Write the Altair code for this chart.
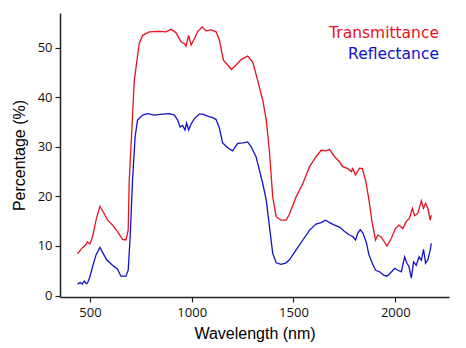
import altair as alt
import pandas as pd

# Transmittance (red)
t_wl = [439, 464, 477, 488, 500, 513, 530, 549, 565, 587, 611, 636, 660, 677, 688, 693, 718, 742, 759, 792,
        841, 874, 898, 923, 948, 964, 972, 985, 997, 1013, 1029, 1051, 1070, 1095, 1120, 1136, 1156, 1177, 1195,
        1218, 1243, 1275, 1300, 1324, 1349, 1366, 1382, 1398, 1415, 1439, 1464, 1480, 1513, 1546, 1579, 1611,
        1636, 1661, 1677, 1702, 1726, 1742, 1767, 1784, 1791, 1805, 1824, 1838, 1854, 1870, 1887, 1903, 1914,
        1931, 1947, 1959, 1980, 2001, 2018, 2037, 2054, 2070, 2084, 2095, 2111, 2128, 2139, 2149, 2160, 2172, 2177]
t_val = [8.4, 9.7, 10.1, 10.8, 10.4, 11.9, 15.2, 18.0, 16.9, 15.2, 14.2, 12.9, 11.3, 11.2, 13.2, 23.0, 43.4,
         50.8, 52.5, 53.2, 53.3, 53.2, 53.7, 53.0, 51.2, 50.8, 50.3, 52.5, 50.5, 51.8, 53.2, 54.2, 53.4, 53.6,
         53.2, 51.5, 47.5, 46.5, 45.6, 46.5, 47.6, 48.3, 47.1, 43.4, 39.4, 35.5, 29.0, 19.9, 15.9, 15.2, 15.2,
         16.4, 19.9, 22.6, 26.0, 28.0, 29.3, 29.2, 29.5, 28.0, 27.0, 26.0, 25.6, 25.0, 25.6, 24.3, 25.7, 25.6,
         23.3, 19.5, 14.6, 11.2, 12.2, 11.8, 10.8, 10.0, 11.5, 13.5, 14.2, 13.5, 14.9, 15.6, 17.6, 16.1, 16.6,
         19.1, 17.6, 18.6, 17.6, 15.2, 16.2]

# Reflectance (blue)
r_wl = [439, 452, 462, 472, 482, 488, 500, 513, 530, 549, 565, 582, 611, 636, 652, 677, 688, 698, 709, 722,
        734, 759, 783, 816, 857, 890, 915, 931, 943, 955, 967, 975, 985, 997, 1013, 1038, 1054, 1078, 1103,
        1120, 1136, 1152, 1177, 1201, 1226, 1251, 1275, 1292, 1316, 1324, 1349, 1366, 1382, 1398, 1415, 1439,
        1464, 1480, 1513, 1546, 1579, 1611, 1636, 1657, 1677, 1702, 1726, 1751, 1775, 1791, 1805, 1816, 1828,
        1841, 1858, 1870, 1887, 1903, 1923, 1943, 1959, 1975, 1997, 2013, 2030, 2046, 2057, 2067, 2079, 2090,
        2103, 2117, 2128, 2139, 2149, 2160, 2172, 2177]
r_val = [2.3, 2.6, 2.3, 2.9, 2.4, 2.5, 3.8, 5.8, 8.2, 9.7, 8.5, 7.2, 6.1, 5.3, 3.9, 3.9, 5.1, 12.0, 23.0, 32.0,
         35.4, 36.4, 36.7, 36.4, 36.6, 36.7, 36.4, 35.4, 34.0, 34.3, 33.4, 34.8, 33.4, 34.6, 35.7, 36.6, 36.6,
         36.2, 35.9, 35.5, 33.8, 30.8, 29.8, 29.2, 30.7, 30.8, 31.0, 30.0, 28.0, 26.7, 22.6, 19.3, 13.9, 8.5,
         6.6, 6.3, 6.6, 7.2, 9.2, 11.2, 13.2, 14.4, 14.7, 15.2, 14.7, 14.2, 13.8, 12.9, 12.2, 11.9, 11.2, 12.6,
         13.3, 12.6, 10.7, 8.3, 6.5, 5.1, 4.8, 4.1, 3.9, 4.5, 5.5, 5.1, 4.8, 7.8, 6.5, 5.9, 3.5, 6.8, 6.1, 7.8,
         7.1, 9.3, 6.5, 7.2, 9.2, 10.5]

series = ["Transmittance", "Reflectance"]
colors = ["#e8121c", "#1212c8"]
x_ticks = [500, 1000, 1500, 2000]
y_ticks = [0, 10, 20, 30, 40, 50]

df = pd.concat([
    pd.DataFrame({"wl": t_wl, "val": t_val, "series": series[0]}),
    pd.DataFrame({"wl": r_wl, "val": r_val, "series": series[1]}),
])
df["order"] = range(len(df))

leg = pd.DataFrame({"series": series, "y": [25, 45.5]})

color_scale = alt.Scale(domain=series, range=colors)

lines = alt.Chart(df).mark_line(strokeWidth=1.3, clip=True).encode(
    x=alt.X("wl:Q", title="Wavelength (nm)",
            scale=alt.Scale(domain=[353, 2264], nice=False, zero=False),
            axis=alt.Axis(values=x_ticks, grid=False, format="d")),
    y=alt.Y("val:Q", title="Percentage (%)",
            scale=alt.Scale(domain=[-0.3, 57], nice=False, zero=False),
            axis=alt.Axis(values=y_ticks, grid=False, format="d")),
    color=alt.Color("series:N", scale=color_scale, legend=None),
    detail="series:N",
    order="order:Q",
)

legend_text = alt.Chart(leg).mark_text(align="right", baseline="alphabetic", font="DejaVu Sans",
                                       fontSize=15.5).encode(
    x=alt.value(379),
    y=alt.Y("y:Q", scale=None),
    text="series:N",
    color=alt.Color("series:N", scale=color_scale, legend=None),
)

chart = alt.layer(lines, legend_text).properties(
    width=389, height=284,
    padding={"left": 60, "top": 13, "right": 17, "bottom": 51},
    autosize=alt.AutoSizeParams(type="none"),
).configure_view(stroke=None).configure_axis(
    domainColor="#222222", domainWidth=1.5, tickColor="#222222", tickWidth=1.2, tickSize=5,
    labelFont="Open Sans", labelFontSize=13, labelColor="#111111", labelPadding=3,
    titleFont="Liberation Sans", titleFontSize=16, titleFontWeight="normal", titleColor="#000000",
).configure_axisX(titlePadding=6, labelPadding=4).configure_axisY(titlePadding=10)

chart.save("out.html", embed_options={"renderer": "svg", "actions": False})
